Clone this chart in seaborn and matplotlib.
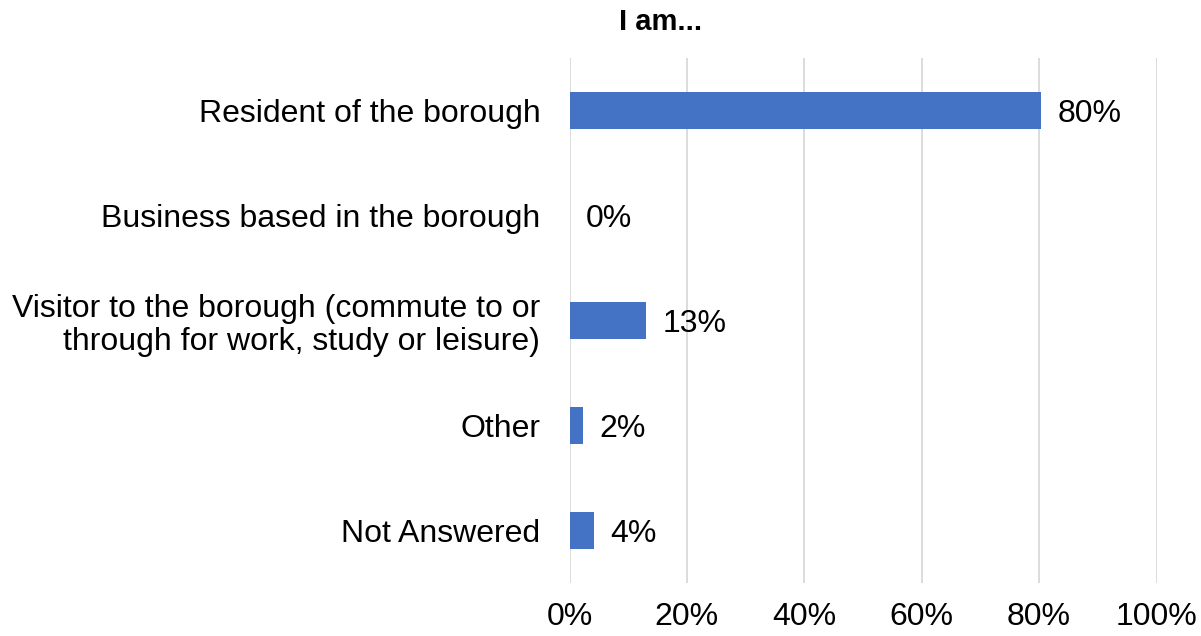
import pandas as pd
import seaborn as sns
import matplotlib.pyplot as plt
from matplotlib.ticker import PercentFormatter

categories = [
    "Resident of the borough",
    "Business based in the borough",
    "Visitor to the borough (commute to or\nthrough for work, study or leisure)",
    "Other",
    "Not Answered",
]
shares = [80.4, 0.0, 13.1, 2.3, 4.1]
value_labels = ["80%", "0%", "13%", "2%", "4%"]

sns.set_theme(style="white")
plt.rcParams['font.family'] = ['Liberation Sans', 'DejaVu Sans']

df = pd.DataFrame({'category': categories, 'share': shares})

fig = plt.figure(figsize=(12.01, 6.36), dpi=100)
ax = fig.add_axes([569.5 / 1201, 1 - 583 / 636, 587 / 1201, 525 / 636])

sns.barplot(data=df, y='category', x='share', color="#4472C4",
            width=0.345, saturation=1, linewidth=0, ax=ax, zorder=3)

ax.set_xlim(0, 100)
ax.set_ylim(4.5, -0.5)
ax.set_xticks(range(0, 101, 20))
ax.xaxis.set_major_formatter(PercentFormatter(decimals=0))
ax.grid(axis='x', color="#D9D9D9", linewidth=1.3, zorder=0)
for side in ax.spines.values():
    side.set_visible(False)
ax.tick_params(axis='both', length=0, labelsize=23, colors="black")
ax.tick_params(axis='x', pad=14)
ax.tick_params(axis='y', pad=21)
ax.set_xlabel("")
ax.set_ylabel("")
for t in ax.get_yticklabels():
    t.set_linespacing(1.15)

for i, (v, lab) in enumerate(zip(shares, value_labels)):
    ax.annotate(lab, (v, i), xytext=(12, 0), textcoords='offset points',
                va='center_baseline', ha='left', fontsize=23, color="black")

fig.text(661 / 1201, 1 - 22 / 636, "I am...", ha='center', va='center',
         fontsize=21, fontweight='bold', color="black")

plt.savefig("out.png", dpi=100)
plt.close()
